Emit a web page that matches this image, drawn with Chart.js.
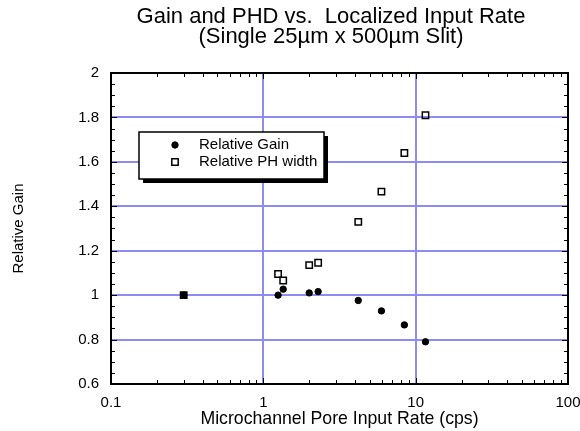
<!DOCTYPE html>
<html>
<head>
<meta charset="utf-8">
<script src="https://cdn.jsdelivr.net/npm/chart.js@4.4.1/dist/chart.umd.min.js"></script>
<style>
  html, body { margin: 0; padding: 0; background: #fff; }
  #wrap { width: 580px; height: 431px; }
</style>
</head>
<body>
<div id="wrap"><canvas id="grafico" width="580" height="431"></canvas></div>
<script>
// values
const chartTitle = ['Gain and PHD vs.  Localized Input Rate', '(Single 25µm x 500µm Slit)'];
const seriesNames = ['Relative Gain', 'Relative PH width'];
const inputRate = [0.3, 1.25, 1.35, 2.0, 2.29, 4.2, 5.96, 8.43, 11.6];
const relGain = [1.0, 1.0, 1.027, 1.01, 1.016, 0.976, 0.929, 0.866, 0.79];
const relPHWidth = [1.0, 1.095, 1.066, 1.135, 1.146, 1.33, 1.466, 1.64, 1.81];
const xTicks = [0.1, 1, 10, 100];
const yTicks = [0.6, 0.8, 1, 1.2, 1.4, 1.6, 1.8, 2];

const gridBlue = '#8c8cf2';
const fontFam = '"Liberation Sans", Arial, sans-serif';

// gridlines, frame and inward tick marks on all four sides
const frame = {
    id: 'frame',
    beforeDatasetsDraw(chart) {
        const { ctx, chartArea: a, scales: { x, y } } = chart;
        const L = Math.round(a.left), R = Math.round(a.right);
        const T = Math.round(a.top), B = Math.round(a.bottom);
        ctx.save();

        // major gridlines
        ctx.strokeStyle = gridBlue;
        ctx.lineWidth = 2;
        ctx.beginPath();
        xTicks.forEach(v => {
            const px = Math.round(x.getPixelForValue(v));
            ctx.moveTo(px, T); ctx.lineTo(px, B);
        });
        yTicks.forEach(v => {
            const py = Math.round(y.getPixelForValue(v));
            ctx.moveTo(L, py); ctx.lineTo(R, py);
        });
        ctx.stroke();

        // tick marks
        ctx.strokeStyle = '#000';
        ctx.lineWidth = 1;
        ctx.beginPath();
        for (let d = 0.1; d < 99; d *= 10) {
            for (let k = 1; k <= 10; k++) {
                const px = Math.round(x.getPixelForValue(d * k)) + 0.5;
                const len = (k === 1 || k === 10) ? 6 : 4;
                ctx.moveTo(px, T); ctx.lineTo(px, T + len);
                ctx.moveTo(px, B); ctx.lineTo(px, B - len);
            }
        }
        for (let i = 0; i <= 28; i++) {
            const v = 0.6 + i * 0.05;
            const py = Math.round(y.getPixelForValue(v)) + 0.5;
            const len = (i % 4 === 0) ? 6 : 4;
            ctx.moveTo(L, py); ctx.lineTo(L + len, py);
            ctx.moveTo(R, py); ctx.lineTo(R - len, py);
        }
        ctx.stroke();

        // frame
        ctx.lineWidth = 2;
        ctx.strokeRect(L, T, R - L, B - T);
        ctx.restore();
    }
};

// title and boxed legend with drop shadow
const extras = {
    id: 'extras',
    afterDraw(chart) {
        const ctx = chart.ctx;
        ctx.save();
        ctx.fillStyle = '#000';
        ctx.textAlign = 'center';
        ctx.textBaseline = 'middle';
        ctx.font = '22px ' + fontFam;
        ctx.fillText(chartTitle[0], 331, 17);
        ctx.fillText(chartTitle[1], 331, 37);

        const bx = 139, by = 132, bw = 185, bh = 47;
        ctx.fillRect(bx + 4, by + 4, bw, bh);
        ctx.fillStyle = '#fff';
        ctx.fillRect(bx, by, bw, bh);
        ctx.strokeStyle = '#000';
        ctx.lineWidth = 1.5;
        ctx.strokeRect(bx, by, bw, bh);

        const ds = chart.data.datasets;
        const rows = [145, 162];
        ds.forEach((d, i) => {
            ctx.strokeStyle = '#000';
            ctx.fillStyle = d.backgroundColor;
            ctx.lineWidth = d.borderWidth;
            Chart.helpers.drawPoint(ctx, { pointStyle: d.pointStyle, radius: d.pointRadius, borderWidth: d.borderWidth }, 175, rows[i]);
            ctx.fillStyle = '#000';
            ctx.textAlign = 'left';
            ctx.font = '15px ' + fontFam;
            ctx.fillText(d.label, 199, rows[i]);
        });
        ctx.restore();
    }
};

const ctx = document.getElementById('grafico').getContext('2d');
const grafico = new Chart(ctx, {
    type: 'scatter',
    data: {
        datasets: [{
            label: seriesNames[0],
            data: inputRate.map((v, i) => ({ x: v, y: relGain[i] })),
            pointStyle: 'circle',
            pointRadius: 3.2,
            backgroundColor: '#000',
            borderColor: '#000',
            borderWidth: 1
        },
        {
            label: seriesNames[1],
            data: inputRate.map((v, i) => ({ x: v, y: relPHWidth[i] })),
            pointStyle: 'rect',
            pointRadius: 4.5,
            backgroundColor: 'rgba(0,0,0,0)',
            borderColor: '#000',
            borderWidth: 1.5
        }]
    },
    plugins: [frame, extras],
    options: {
        responsive: false,
        animation: false,
        layout: { padding: { top: 73, right: 0, left: 0, bottom: 0 } },
        plugins: {
            legend: { display: false },
            title: { display: false },
            tooltip: { enabled: false }
        },
        scales: {
            x: {
                type: 'logarithmic',
                min: 0.1,
                max: 100,
                afterBuildTicks: s => { s.ticks = xTicks.map(v => ({ value: v })); },
                afterFit: s => {
                    s.height = 47;
                    s.paddingLeft = 0;
                    s.paddingRight = 12;
                },
                ticks: {
                    color: '#000',
                    padding: 10,
                    maxRotation: 0,
                    font: { family: fontFam, size: 15 },
                    callback: v => String(v)
                },
                grid: { display: false, drawTicks: false },
                border: { display: false },
                title: {
                    display: true,
                    text: 'Microchannel Pore Input Rate (cps)',
                    color: '#000',
                    font: { family: fontFam, size: 17.7 },
                    padding: { top: 0, bottom: 1 }
                }
            },
            y: {
                min: 0.6,
                max: 2,
                afterBuildTicks: s => { s.ticks = yTicks.map(v => ({ value: v })); },
                afterFit: s => { s.width = 111; },
                ticks: {
                    color: '#000',
                    padding: 12,
                    font: { family: fontFam, size: 15 },
                    callback: v => String(v)
                },
                grid: { display: false, drawTicks: false },
                border: { display: false },
                title: {
                    display: true,
                    text: 'Relative Gain',
                    color: '#000',
                    font: { family: fontFam, size: 15 },
                    padding: { top: 10, bottom: 0 }
                }
            }
        }
    }
});
</script>
</body>
</html>
